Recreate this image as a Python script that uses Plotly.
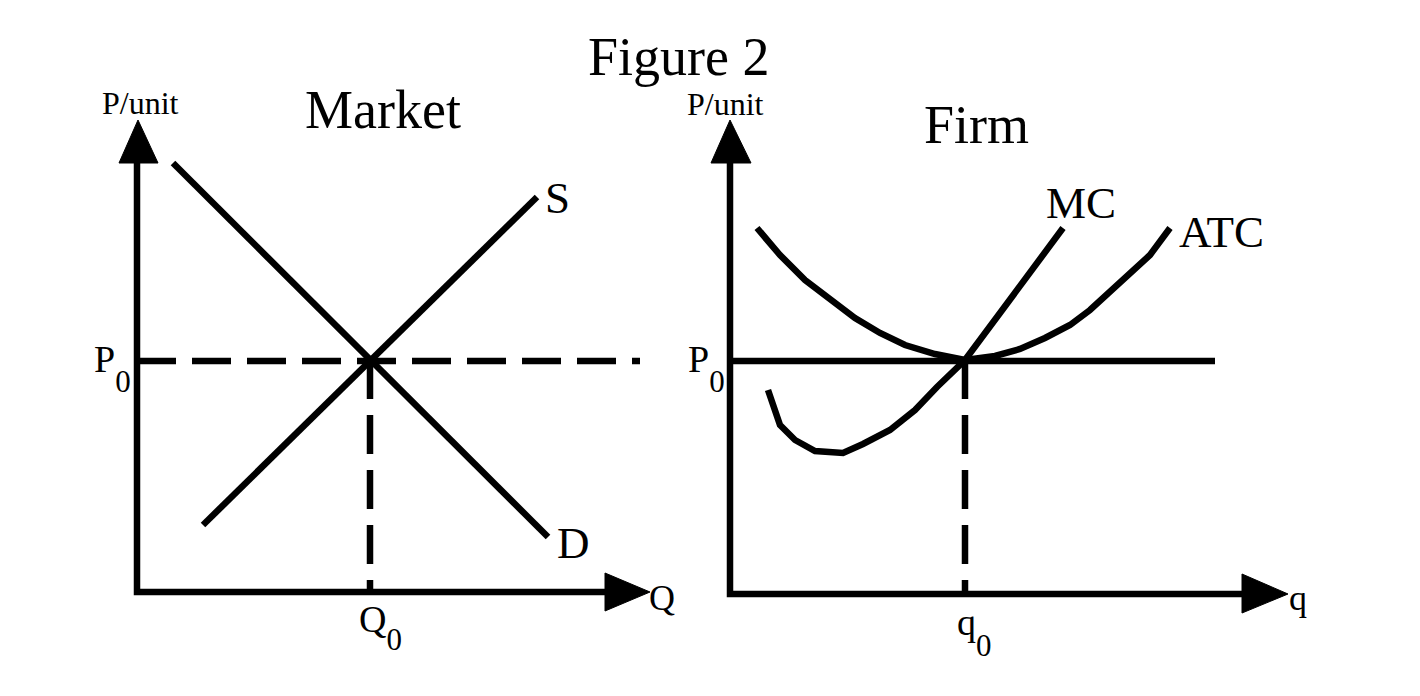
import plotly.graph_objects as go

W, H = 1420, 696
FONT = "Liberation Serif, Times New Roman, serif"

# ---- Market panel (canvas coordinates, y measured downward) ----
mkt_axis_x = [137, 137, 630]
mkt_axis_y = [140, 592, 592]
mkt_arrow_up_x = [119, 138, 158, 119]
mkt_arrow_up_y = [163, 120, 163, 163]
mkt_arrow_right_x = [605, 650, 605, 605]
mkt_arrow_right_y = [573, 592, 611, 573]

demand_x = [173, 548]
demand_y = [163, 537]
supply_x = [203, 537]
supply_y = [525, 197]

mkt_p0_x = [137, 640]
mkt_p0_y = [361, 361]
mkt_q0_x = [370, 370]
mkt_q0_y = [360, 592]

# ---- Firm panel ----
firm_axis_x = [730, 730, 1265]
firm_axis_y = [140, 594, 594]
firm_arrow_up_x = [711, 730, 751, 711]
firm_arrow_up_y = [163, 120, 163, 163]
firm_arrow_right_x = [1242, 1288, 1242, 1242]
firm_arrow_right_y = [574, 594, 613, 574]

atc_x = [757, 780, 805, 830, 855, 880, 905, 935, 965, 995, 1020, 1045, 1070, 1090, 1110, 1130, 1150, 1170]
atc_y = [228, 255, 280, 300, 318, 333, 345, 354, 360, 356, 349, 338, 325, 310, 292, 275, 255, 228]

mc_x = [768, 780, 795, 815, 843, 863, 890, 915, 937, 965, 1000, 1030, 1063]
mc_y = [390, 425, 440, 451, 453, 444, 430, 410, 387, 360, 313, 272, 228]

firm_p0_x = [730, 1215]
firm_p0_y = [361, 361]
firm_q0_x = [965, 965]
firm_q0_y = [360, 594]

# ---- text labels ----
def sub0(drop):
    return "<span style='font-size:31px;baseline-shift:-%dpx'>0</span>" % drop

label_text = ["Figure 2", "Market", "Firm", "P/unit", "P/unit", "S", "D", "MC", "ATC",
              "Q", "q",
              "P" + sub0(20), "Q" + sub0(18), "P" + sub0(20), "q" + sub0(21)]
label_x = [679, 383, 976, 140, 725, 557, 573, 1081, 1221,
           662, 1298,
           112, 380, 706, 974]
label_y = [57, 110, 125, 103, 104, 198, 543, 203, 232,
           598, 598,
           368, 627, 368, 632]
label_size = [54, 54, 54, 32, 32, 45, 45, 45, 45,
              36, 36,
              38, 38, 38, 38]

DASH = "39px,16px"
LW = 6.5

fig = go.Figure()

def line(x, y, dash="solid", width=LW):
    fig.add_trace(go.Scatter(x=x, y=y, mode="lines",
                             line=dict(color="black", width=width, dash=dash),
                             hoverinfo="skip", showlegend=False))

def tri(x, y):
    fig.add_trace(go.Scatter(x=x, y=y, mode="lines", fill="toself", fillcolor="black",
                             line=dict(color="black", width=1),
                             hoverinfo="skip", showlegend=False))

line(mkt_axis_x, mkt_axis_y)
tri(mkt_arrow_up_x, mkt_arrow_up_y)
tri(mkt_arrow_right_x, mkt_arrow_right_y)
line(demand_x, demand_y)
line(supply_x, supply_y)
line(mkt_p0_x, mkt_p0_y, dash=DASH)
line(mkt_q0_x, mkt_q0_y, dash=DASH)

line(firm_axis_x, firm_axis_y)
tri(firm_arrow_up_x, firm_arrow_up_y)
tri(firm_arrow_right_x, firm_arrow_right_y)
line(firm_p0_x, firm_p0_y)
line(firm_q0_x, firm_q0_y, dash=DASH)
line(atc_x, atc_y)
line(mc_x, mc_y)

for t, x, y, s in zip(label_text, label_x, label_y, label_size):
    fig.add_annotation(x=x, y=y, xref="x", yref="y", text=t, showarrow=False,
                       xanchor="center", yanchor="middle", borderpad=0,
                       font=dict(family=FONT, size=s, color="black"))

fig.update_layout(
    width=W, height=H,
    margin=dict(l=0, r=0, t=0, b=0),
    paper_bgcolor="white", plot_bgcolor="white",
    xaxis=dict(range=[0, W], visible=False, fixedrange=True),
    yaxis=dict(range=[H, 0], visible=False, fixedrange=True),
)

fig.write_html("out.html", config={"displayModeBar": False},
               post_script="document.body.style.margin='0';document.body.style.overflow='hidden';")
